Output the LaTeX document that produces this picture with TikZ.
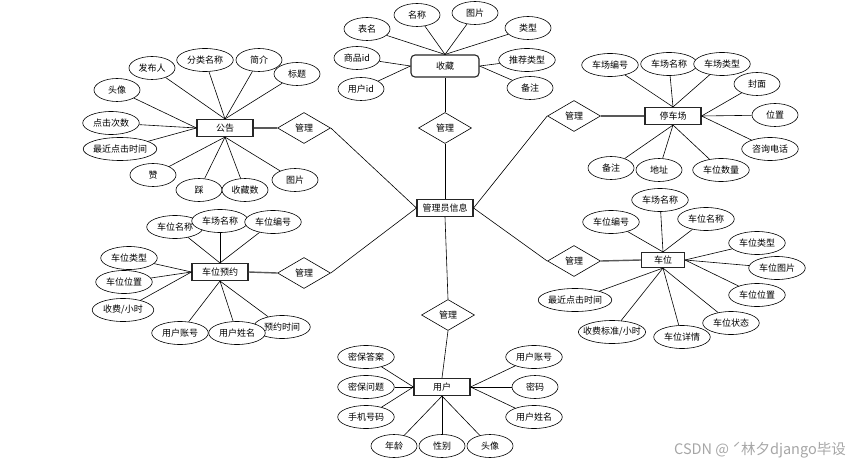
\documentclass[tikz,border=0pt]{standalone}
\usepackage{fontspec}
\setmainfont{Noto Sans CJK SC}
\usetikzlibrary{shapes.geometric}

\begin{document}
\begin{tikzpicture}[x=1pt, y=-1pt, font=\fontsize{9}{10}\selectfont,
    attr/.style={draw, fill=white, ellipse, line width=0.6pt, inner xsep=2pt, inner ysep=0pt, minimum width=46, minimum height=23},
    entity/.style={draw=black!85, fill=white, line width=1.1pt, rectangle, minimum width=56, minimum height=17, inner sep=0pt},
    rel/.style={draw, fill=white, diamond, line width=0.6pt, minimum width=53, minimum height=31, inner sep=0pt},
    link/.style={line width=0.6pt},
    heavy/.style={line width=1.4pt, black!65}]
    \useasboundingbox (0,0) rectangle (861,465);

    \node[entity] (gly) at (445,208) {管理员信息};
    \node[rel] (m1) at (445,128) {管理};
    \node[rel] (m2) at (304,128) {管理};
    \node[rel] (m3) at (574,116) {管理};
    \node[rel] (m4) at (304,273) {管理};
    \node[rel] (m5) at (574,261) {管理};
    \node[rel] (m6) at (448,315) {管理};

    \node[entity, rounded corners=4pt, minimum width=68, minimum height=22] (sc) at (445,66) {收藏};
    \node[entity] (gg) at (225,128) {公告};
    \node[entity] (tcc) at (673,116) {停车场};
    \node[entity] (yy) at (220,272) {车位预约};
    \node[entity, minimum width=43, minimum height=15] (cw) at (663,260) {车位};
    \node[entity] (yh) at (442,387) {用户};

    \node[attr] (s1) at (367,29) {表名};
    \node[attr] (s2) at (417,15) {名称};
    \node[attr] (s3) at (475,13) {图片};
    \node[attr] (s4) at (528,28) {类型};
    \node[attr] (s5) at (357,58) {商品id};
    \node[attr] (s6) at (527,60) {推荐类型};
    \node[attr] (s7) at (361,89) {用户id};
    \node[attr] (s8) at (530,88) {备注};

    \node[attr] (g1) at (152,68) {发布人};
    \node[attr] (g2) at (205,60) {分类名称};
    \node[attr] (g3) at (259,60) {简介};
    \node[attr] (g4) at (297,74) {标题};
    \node[attr] (g5) at (117,90) {头像};
    \node[attr] (g6) at (111,123) {点击次数};
    \node[attr, inner xsep=-1pt] (g7) at (120,149) {最近点击时间};
    \node[attr] (g8) at (153,175) {赞};
    \node[attr] (g9) at (199,190) {踩};
    \node[attr] (g10) at (245,190) {收藏数};
    \node[attr] (g11) at (295,180) {图片};

    \node[attr] (t1) at (610,65) {车场编号};
    \node[attr] (t2) at (669,64) {车场名称};
    \node[attr] (t3) at (722,64) {车场类型};
    \node[attr] (t4) at (757,84) {封面};
    \node[attr] (t5) at (775,115) {位置};
    \node[attr] (t6) at (770,149) {咨询电话};
    \node[attr] (t7) at (611,168) {备注};
    \node[attr] (t8) at (659,170) {地址};
    \node[attr] (t9) at (721,170) {车位数量};

    \node[attr] (y1) at (175,227) {车位名称};
    \node[attr] (y2) at (220,221) {车场名称};
    \node[attr] (y3) at (273,222) {车位编号};
    \node[attr] (y4) at (129,258) {车位类型};
    \node[attr] (y5) at (124,282) {车位位置};
    \node[attr] (y6) at (123,310) {收费/小时};
    \node[attr] (y7) at (180,333) {用户账号};
    \node[attr] (y9) at (282,327) {预约时间};
    \node[attr] (y8) at (237,333) {用户姓名};

    \node[attr] (c1) at (660,200) {车场名称};
    \node[attr] (c2) at (611,222) {车位编号};
    \node[attr] (c3) at (706,219) {车位名称};
    \node[attr] (c4) at (757,243) {车位类型};
    \node[attr] (c5) at (777,268) {车位图片};
    \node[attr] (c6) at (757,295) {车位位置};
    \node[attr, inner xsep=-1pt] (c7) at (575,300) {最近点击时间};
    \node[attr, inner xsep=-5pt] (c8) at (612,332) {收费标准/小时};
    \node[attr] (c10) at (731,323) {车位状态};
    \node[attr] (c9) at (682,337) {车位详情};

    \node[attr] (u1) at (366,357) {密保答案};
    \node[attr] (u2) at (366,387) {密保问题};
    \node[attr] (u3) at (366,417) {手机号码};
    \node[attr] (u4) at (534,357) {用户账号};
    \node[attr] (u5) at (535,387) {密码};
    \node[attr] (u6) at (534,417) {用户姓名};
    \node[attr] (u7) at (394,446) {年龄};
    \node[attr] (u8) at (442,446) {性别};
    \node[attr] (u9) at (490,446) {头像};

    \node[text=black!35, font=\fontsize{14.5}{16}\selectfont] (wm) at (760,450) {CSDN @ ˊ林夕django毕设};

    \path[link]
        (gly.north) edge (m1.south)
        (gly.west) edge (m2.east)
                   edge (m4.east)
        (gly.east) edge (m3.west)
                   edge (m5.west)
        (gly.south) edge (m6.north)
        (m1.north) edge (sc.south)
        (m6.south) edge (yh.north);
    \path[heavy]
        (m2.west) edge (gg.east)
        (m3.east) edge (tcc.west)
        (m4.west) edge (yy.east)
        (m5.east) edge (cw.west);

    \path[link]
        (sc.north) edge (s1) edge (s2) edge (s3) edge (s4)
        (sc.west) edge (s5) edge (s7)
        (sc.east) edge (s6) edge (s8)
        (gg.north) edge (g1) edge (g2) edge (g3) edge (g4)
        (gg.west) edge (g5) edge (g6) edge (g7)
        (gg.south) edge (g8) edge (g9) edge (g10) edge (g11)
        (tcc.north) edge (t1) edge (t2) edge (t3)
        (tcc.east) edge (t4) edge (t5) edge (t6)
        (tcc.south) edge (t7) edge (t8) edge (t9)
        (yy.north) edge (y1) edge (y2) edge (y3)
        (yy.west) edge (y4) edge (y5) edge (y6)
        (yy.south) edge (y7) edge (y8) edge (y9)
        (cw.north) edge (c1) edge (c2) edge (c3)
        (cw.east) edge (c4) edge (c5) edge (c6)
        (cw.south) edge (c7) edge (c8) edge (c9) edge (c10)
        (yh.west) edge (u1) edge (u2) edge (u3)
        (yh.east) edge (u4) edge (u5) edge (u6)
        (yh.south) edge (u7) edge (u8) edge (u9);
\end{tikzpicture}
\end{document}
